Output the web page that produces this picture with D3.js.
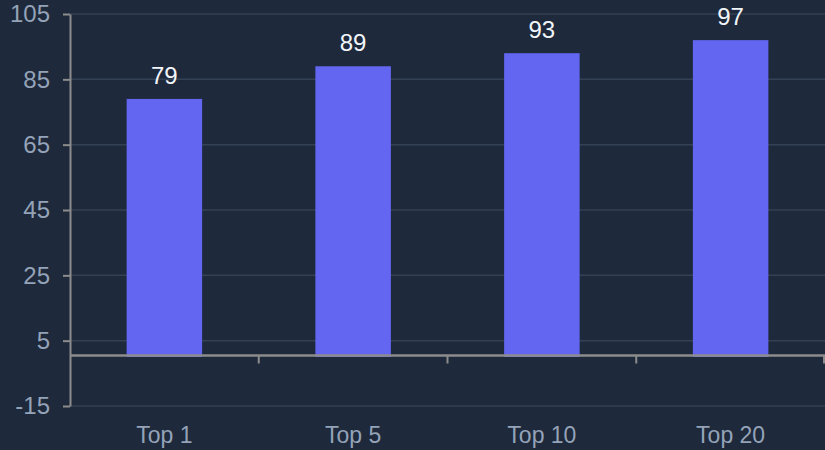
<!DOCTYPE html>
<html>
<head>
<meta charset="utf-8">
<script src="https://cdn.jsdelivr.net/npm/d3@7"></script>
<style>
  html, body { margin: 0; padding: 0; background: #1e293b; }
  svg { display: block; }
</style>
</head>
<body>
<svg id="chart" width="825" height="450"></svg>
<script>
// Hit rate by ranking cutoff
const categories = ["Top 1", "Top 5", "Top 10", "Top 20"];
const values = [79, 89, 93, 97];
const yTicks = [-15, 5, 25, 45, 65, 85, 105];

const W = 825, H = 450;
const margin = { left: 70, right: 0, top: 14, bottom: 44 };
const font = "'Liberation Sans', Arial, Helvetica, sans-serif";

const svg = d3.select("#chart");
svg.append("rect").attr("width", W).attr("height", H).attr("fill", "#1e293b");

const x = d3.scaleBand()
  .domain(categories)
  .range([margin.left, W - margin.right])
  .padding(0);

const y = d3.scaleLinear()
  .domain([-15, 105])
  .range([H - margin.bottom, margin.top]);

// horizontal grid
svg.append("g")
  .selectAll("line")
  .data(yTicks)
  .join("line")
  .attr("x1", margin.left)
  .attr("x2", W - margin.right)
  .attr("y1", d => y(d))
  .attr("y2", d => y(d))
  .attr("stroke", "#334155")
  .attr("stroke-width", 1.5);

// bars
const barW = x.bandwidth() * 0.4;
svg.append("g")
  .selectAll("rect")
  .data(values)
  .join("rect")
  .attr("x", (d, i) => x(categories[i]) + (x.bandwidth() - barW) / 2)
  .attr("y", d => y(d))
  .attr("width", barW)
  .attr("height", d => y(0) - y(d))
  .attr("fill", "#6366f1");

// value labels
svg.append("g")
  .selectAll("text")
  .data(values)
  .join("text")
  .attr("x", (d, i) => x(categories[i]) + x.bandwidth() / 2)
  .attr("y", d => y(d) - 15)
  .attr("text-anchor", "middle")
  .attr("fill", "#f1f5f9")
  .attr("font-family", font)
  .attr("font-size", 24)
  .text(d => d);

// y axis
const yAxis = svg.append("g")
  .attr("transform", `translate(${margin.left},0)`)
  .call(d3.axisLeft(y).tickValues(yTicks).tickFormat(d => String(d))
    .tickSize(7).tickPadding(13).tickSizeOuter(0));
yAxis.select(".domain").attr("stroke", "#8c8c8c").attr("stroke-width", 2);
yAxis.selectAll(".tick line").attr("stroke", "#8c8c8c").attr("stroke-width", 2);
yAxis.selectAll(".tick text")
  .attr("fill", "#94a3b8")
  .attr("font-family", font)
  .attr("font-size", 24);

// x axis line at zero, with ticks on band edges
const edges = categories.map(c => x(c) + x.bandwidth());
const zeroY = y(0) - 1.5;
svg.append("line")
  .attr("x1", margin.left).attr("x2", W - margin.right)
  .attr("y1", zeroY).attr("y2", zeroY)
  .attr("stroke", "#8c8c8c").attr("stroke-width", 2.5);
svg.append("g")
  .selectAll("line")
  .data(edges)
  .join("line")
  .attr("x1", d => Math.min(d, W - 1)).attr("x2", d => Math.min(d, W - 1))
  .attr("y1", zeroY).attr("y2", zeroY + 8)
  .attr("stroke", "#8c8c8c").attr("stroke-width", 2);

// category labels along the bottom
svg.append("g")
  .selectAll("text")
  .data(categories)
  .join("text")
  .attr("x", d => x(d) + x.bandwidth() / 2)
  .attr("y", 443)
  .attr("text-anchor", "middle")
  .attr("fill", "#94a3b8")
  .attr("font-family", font)
  .attr("font-size", 23)
  .text(d => d);
</script>
</body>
</html>
